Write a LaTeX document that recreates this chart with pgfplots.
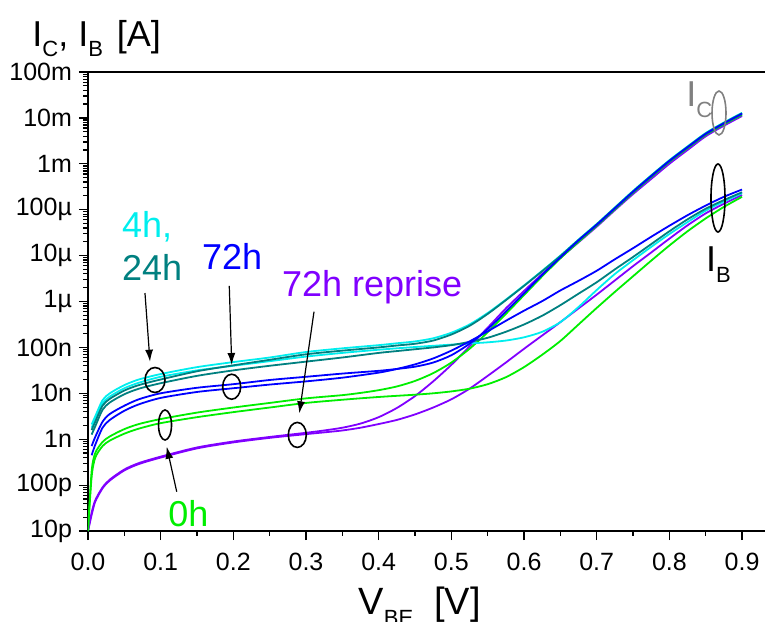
\documentclass[border=0pt]{standalone}
\usepackage{graphicx}
\usepackage{pgfplots}
\pgfplotsset{compat=1.18}
\usepackage{fontspec}
\setmainfont{Liberation Sans}
\usetikzlibrary{arrows.meta}
\definecolor{cyanc}{RGB}{0,238,238}
\definecolor{tealc}{RGB}{0,128,128}
\definecolor{bluec}{RGB}{0,0,255}
\definecolor{purpc}{RGB}{128,0,255}
\definecolor{greenc}{RGB}{0,238,0}
\definecolor{grayc}{RGB}{128,128,128}
\newcommand{\subs}[1]{\raisebox{-0.3em}{\fontsize{11}{11}\selectfont #1}}
\begin{document}
\begin{tikzpicture}
\begin{axis}[
  scale only axis, width=338.5pt, height=229.5pt,
  xmin=0, xmax=0.9316, ymin=1e-11, ymax=1e-1, ymode=log,
  axis x line*=box, axis y line*=left,
  xtick pos=bottom, ytick pos=left,
  tick align=outside,
  major tick length=4.5pt, minor tick length=2.3pt,
  every tick/.style={black, line width=0.6pt},
  axis line style={line width=0.8pt},
  xtick={0,0.1,0.2,0.3,0.4,0.5,0.6,0.7,0.8,0.9},
  xticklabels={0.0,0.1,0.2,0.3,0.4,0.5,0.6,0.7,0.8,0.9},
  xticklabel shift=3pt,
  minor x tick num=1,
  ytick={1e-11,1e-10,1e-9,1e-8,1e-7,1e-6,1e-5,1e-4,1e-3,1e-2,1e-1},
  yticklabels={10p,100p,1n,10n,100n,1µ,10µ,100µ,1m,10m,100m},
  tick label style={font=\fontsize{12.5}{14}\selectfont},
  xlabel={V\subs{BE}\ \ [V]},
  xlabel style={font=\fontsize{19}{22}\selectfont, at={(axis description cs:0.49,0)}, anchor=base, yshift=-41.5pt},
  every axis plot/.append style={line width=0.9pt, smooth, tension=0.45},
  clip mode=individual,
]
\coordinate (ll) at (rel axis cs:0,0);
% 72h reprise IB
\addplot[purpc] coordinates {(0,1e-11)(0.005,2.24e-11)(0.01,4.37e-11)(0.02,8.51e-11)(0.03,1.26e-10)(0.05,2.09e-10)(0.07,2.88e-10)(0.1,3.98e-10)(0.15,6.31e-10)(0.2,8.51e-10)(0.25,1.07e-9)(0.3,1.29e-9)(0.325,1.41e-9)(0.35,1.55e-9)(0.375,1.78e-9)(0.4,2.14e-9)(0.425,2.63e-9)(0.45,3.47e-9)(0.475,4.90e-9)(0.5,7.41e-9)(0.525,1.26e-8)(0.55,2.40e-8)(0.575,4.68e-8)(0.6,9.33e-8)(0.625,1.82e-7)(0.65,3.55e-7)(0.675,7.08e-7)(0.7,1.41e-6)(0.725,2.88e-6)(0.75,5.89e-6)(0.775,1.17e-5)(0.8,2.34e-5)(0.825,4.57e-5)(0.85,8.32e-5)(0.875,1.35e-4)(0.9,2.09e-4)};
% 72h reprise IC
\addplot[purpc] coordinates {(0,1e-11)(0.005,2.51e-11)(0.01,4.68e-11)(0.02,8.91e-11)(0.03,1.32e-10)(0.05,2.19e-10)(0.07,3.02e-10)(0.1,4.17e-10)(0.15,6.61e-10)(0.2,8.91e-10)(0.25,1.12e-9)(0.3,1.38e-9)(0.325,1.55e-9)(0.35,1.78e-9)(0.375,2.19e-9)(0.4,3.02e-9)(0.425,4.79e-9)(0.45,8.71e-9)(0.475,1.82e-8)(0.5,4.17e-8)(0.525,1.05e-7)(0.55,2.69e-7)(0.575,7.08e-7)(0.6,1.70e-6)(0.625,3.98e-6)(0.65,8.91e-6)(0.675,1.95e-5)(0.7,4.27e-5)(0.725,9.77e-5)(0.75,2.19e-4)(0.775,4.68e-4)(0.8,1.0e-3)(0.825,2.0e-3)(0.85,3.98e-3)(0.875,6.76e-3)(0.9,1.10e-2)};
% 0h IB
\addplot[greenc] coordinates {(0,1e-11)(0.005,1.51e-10)(0.01,3.98e-10)(0.02,7.08e-10)(0.03,9.33e-10)(0.05,1.32e-9)(0.07,1.70e-9)(0.1,2.24e-9)(0.15,3.02e-9)(0.2,3.89e-9)(0.25,4.90e-9)(0.3,6.17e-9)(0.35,7.24e-9)(0.4,8.32e-9)(0.45,9.33e-9)(0.475,1.0e-8)(0.5,1.10e-8)(0.525,1.26e-8)(0.55,1.58e-8)(0.575,2.24e-8)(0.6,3.72e-8)(0.625,6.92e-8)(0.65,1.38e-7)(0.675,3.16e-7)(0.7,7.24e-7)(0.725,1.62e-6)(0.75,3.55e-6)(0.775,7.76e-6)(0.8,1.66e-5)(0.825,3.39e-5)(0.85,6.46e-5)(0.875,1.15e-4)(0.9,1.91e-4)};
% 0h IC
\addplot[greenc] coordinates {(0,1e-11)(0.005,2.00e-10)(0.01,5.01e-10)(0.02,8.71e-10)(0.03,1.15e-9)(0.05,1.66e-9)(0.07,2.14e-9)(0.1,2.75e-9)(0.15,3.80e-9)(0.2,4.90e-9)(0.25,6.17e-9)(0.3,7.76e-9)(0.35,9.12e-9)(0.375,1.02e-8)(0.4,1.17e-8)(0.425,1.41e-8)(0.45,1.86e-8)(0.475,2.75e-8)(0.5,4.68e-8)(0.525,9.33e-8)(0.55,2.14e-7)(0.575,5.37e-7)(0.6,1.38e-6)(0.625,3.55e-6)(0.65,8.71e-6)(0.675,2.0e-5)(0.7,4.47e-5)(0.725,1.02e-4)(0.75,2.34e-4)(0.775,5.13e-4)(0.8,1.10e-3)(0.825,2.19e-3)(0.85,4.27e-3)(0.875,7.24e-3)(0.9,1.17e-2)};
% 4h IB
\addplot[cyanc] coordinates {(0.005,1.78e-9)(0.01,2.69e-9)(0.02,6.03e-9)(0.03,8.51e-9)(0.05,1.29e-8)(0.07,1.70e-8)(0.1,2.29e-8)(0.15,3.16e-8)(0.2,3.98e-8)(0.25,5.01e-8)(0.3,6.31e-8)(0.35,7.59e-8)(0.4,8.91e-8)(0.45,1.02e-7)(0.5,1.15e-7)(0.525,1.22e-7)(0.55,1.29e-7)(0.575,1.41e-7)(0.6,1.66e-7)(0.625,2.19e-7)(0.65,3.55e-7)(0.675,7.59e-7)(0.7,1.78e-6)(0.725,3.98e-6)(0.75,7.94e-6)(0.775,1.55e-5)(0.8,2.95e-5)(0.825,5.37e-5)(0.85,9.55e-5)(0.875,1.51e-4)(0.9,2.29e-4)};
% 24h IB
\addplot[tealc] coordinates {(0.005,1.26e-9)(0.01,1.91e-9)(0.02,4.37e-9)(0.03,6.31e-9)(0.05,9.55e-9)(0.07,1.26e-8)(0.1,1.66e-8)(0.15,2.40e-8)(0.2,3.16e-8)(0.25,3.98e-8)(0.3,4.90e-8)(0.35,6.03e-8)(0.4,7.59e-8)(0.425,8.32e-8)(0.45,9.12e-8)(0.475,1.0e-7)(0.5,1.12e-7)(0.525,1.32e-7)(0.55,1.62e-7)(0.575,2.19e-7)(0.6,3.16e-7)(0.625,4.90e-7)(0.65,8.32e-7)(0.675,1.48e-6)(0.7,2.63e-6)(0.725,5.01e-6)(0.75,9.33e-6)(0.775,1.78e-5)(0.8,3.39e-5)(0.825,6.17e-5)(0.85,1.05e-4)(0.875,1.62e-4)(0.9,2.40e-4)};
% 72h IB
\addplot[bluec] coordinates {(0.005,4.47e-10)(0.01,7.59e-10)(0.02,1.78e-9)(0.03,2.63e-9)(0.05,4.17e-9)(0.07,5.75e-9)(0.1,7.94e-9)(0.15,1.07e-8)(0.2,1.29e-8)(0.25,1.55e-8)(0.3,1.82e-8)(0.35,2.19e-8)(0.4,2.82e-8)(0.425,3.39e-8)(0.45,4.27e-8)(0.475,5.75e-8)(0.5,8.51e-8)(0.525,1.35e-7)(0.55,2.24e-7)(0.575,3.80e-7)(0.6,6.31e-7)(0.625,1.02e-6)(0.65,1.74e-6)(0.675,2.82e-6)(0.7,4.68e-6)(0.725,8.32e-6)(0.75,1.45e-5)(0.775,2.57e-5)(0.8,4.47e-5)(0.825,7.59e-5)(0.85,1.23e-4)(0.875,1.91e-4)(0.9,2.75e-4)};
% 4h IC
\addplot[cyanc] coordinates {(0.005,2.09e-9)(0.01,3.16e-9)(0.02,7.08e-9)(0.03,1.0e-8)(0.05,1.51e-8)(0.07,2.00e-8)(0.1,2.63e-8)(0.15,3.72e-8)(0.2,4.79e-8)(0.25,6.03e-8)(0.3,7.94e-8)(0.35,9.55e-8)(0.4,1.12e-7)(0.425,1.23e-7)(0.45,1.35e-7)(0.475,1.58e-7)(0.5,2.09e-7)(0.525,3.16e-7)(0.55,5.62e-7)(0.575,1.10e-6)(0.6,2.24e-6)(0.625,4.68e-6)(0.65,1.0e-5)(0.675,2.24e-5)(0.7,4.90e-5)(0.725,1.12e-4)(0.75,2.57e-4)(0.775,5.62e-4)(0.8,1.20e-3)(0.825,2.40e-3)(0.85,4.68e-3)(0.875,7.94e-3)(0.9,1.29e-2)};
% 24h IC
\addplot[tealc] coordinates {(0.005,1.58e-9)(0.01,2.40e-9)(0.02,5.37e-9)(0.03,7.59e-9)(0.05,1.15e-8)(0.07,1.51e-8)(0.1,2.00e-8)(0.15,3.02e-8)(0.2,4.07e-8)(0.25,5.37e-8)(0.3,7.08e-8)(0.35,8.51e-8)(0.4,1.0e-7)(0.425,1.10e-7)(0.45,1.20e-7)(0.475,1.41e-7)(0.5,1.91e-7)(0.525,2.95e-7)(0.55,5.37e-7)(0.575,1.07e-6)(0.6,2.19e-6)(0.625,4.57e-6)(0.65,9.77e-6)(0.675,2.19e-5)(0.7,4.79e-5)(0.725,1.10e-4)(0.75,2.51e-4)(0.775,5.50e-4)(0.8,1.17e-3)(0.825,2.34e-3)(0.85,4.57e-3)(0.875,7.76e-3)(0.9,1.26e-2)};
% 72h IC
\addplot[bluec] coordinates {(0.005,7.08e-10)(0.01,1.12e-9)(0.02,2.40e-9)(0.03,3.55e-9)(0.05,5.37e-9)(0.07,7.41e-9)(0.1,1.0e-8)(0.15,1.32e-8)(0.2,1.58e-8)(0.25,1.95e-8)(0.3,2.29e-8)(0.35,2.69e-8)(0.4,3.09e-8)(0.425,3.39e-8)(0.45,3.80e-8)(0.475,4.68e-8)(0.5,6.76e-8)(0.525,1.20e-7)(0.55,2.51e-7)(0.575,6.03e-7)(0.6,1.51e-6)(0.625,3.80e-6)(0.65,9.12e-6)(0.675,2.14e-5)(0.7,4.68e-5)(0.725,1.07e-4)(0.75,2.45e-4)(0.775,5.37e-4)(0.8,1.15e-3)(0.825,2.29e-3)(0.85,4.47e-3)(0.875,7.59e-3)(0.9,1.23e-2)};
% annotations
\draw[line width=0.8pt] (axis cs:0.0922,1.95e-8) ellipse [x radius=5pt, y radius=6.25pt];
\draw[line width=0.8pt] (axis cs:0.1977,1.39e-8) ellipse [x radius=4.5pt, y radius=6.25pt];
\draw[line width=0.8pt] (axis cs:0.106,2.04e-9) ellipse [x radius=3.25pt, y radius=7.5pt];
\draw[line width=0.8pt] (axis cs:0.288,1.24e-9) ellipse [x radius=4.5pt, y radius=6.25pt];
\draw[line width=0.8pt, grayc] (axis cs:0.8683,1.28e-2) ellipse [x radius=3.5pt, y radius=11pt];
\draw[line width=0.8pt] (axis cs:0.8669,1.80e-4) ellipse [x radius=3.5pt, y radius=17pt];
\draw[line width=0.6pt, -{Latex[length=6pt,width=4pt]}] (axis cs:0.0784,1.53e-6) -- (axis cs:0.0853,4.88e-8);
\draw[line width=0.6pt, -{Latex[length=6pt,width=4pt]}] (axis cs:0.1944,2.18e-6) -- (axis cs:0.1978,4.14e-8);
\draw[line width=0.6pt, -{Latex[length=6pt,width=4pt]}] (axis cs:0.311,6.0e-7) -- (axis cs:0.2908,3.66e-9);
\draw[line width=0.6pt, -{Latex[length=6pt,width=4pt]}] (axis cs:0.1221,7.18e-11) -- (axis cs:0.1083,6.87e-10);
\node[anchor=base west, inner sep=0, text=cyanc, font=\fontsize{18}{20}\selectfont] at (axis cs:0.0463,2.42e-5) {4h,};
\node[anchor=base west, inner sep=0, text=tealc, font=\fontsize{18}{20}\selectfont] at (axis cs:0.0463,2.94e-6) {24h};
\node[anchor=base west, inner sep=0, text=bluec, font=\fontsize{18}{20}\selectfont] at (axis cs:0.1564,5.04e-6) {72h};
\node[anchor=base west, inner sep=0, text=purpc, font=\fontsize{18}{20}\selectfont] at (axis cs:0.2665,1.28e-6) {72h reprise};
\node[anchor=base west, inner sep=0, text=greenc, font=\fontsize{18}{20}\selectfont] at (axis cs:0.110,1.24e-11) {0h};
\node[anchor=base west, inner sep=0, text=grayc, font=\fontsize{18}{20}\selectfont] at (axis cs:0.823,1.73e-2) {I\subs{C}};
\node[anchor=base west, inner sep=0, font=\fontsize{18}{20}\selectfont] at (axis cs:0.850,4.40e-6) {I\subs{B}};
\node[anchor=base west, inner sep=0, font=\fontsize{18}{20}\selectfont, xshift=-28pt, yshift=13pt] at (rel axis cs:0,1) {I\subs{C}, I\subs{B}\hspace{7pt}[A]};
\end{axis}
\pgfresetboundingbox
\useasboundingbox ([shift={(-44pt,-45pt)}]ll) rectangle ++(382.5pt,310.5pt);
\end{tikzpicture}
\end{document}
